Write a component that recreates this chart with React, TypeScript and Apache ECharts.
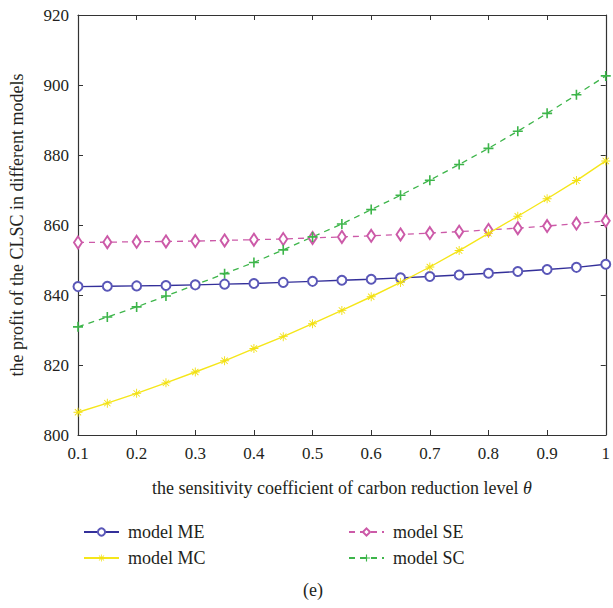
import React, { useEffect, useRef } from "react";
import * as echarts from "echarts";

const theta = [0.1, 0.15, 0.2, 0.25, 0.3, 0.35, 0.4, 0.45, 0.5, 0.55, 0.6, 0.65, 0.7, 0.75, 0.8, 0.85, 0.9, 0.95, 1];
const modelME = [842.4, 842.5, 842.6, 842.7, 842.9, 843.1, 843.3, 843.6, 843.9, 844.2, 844.5, 844.9, 845.3, 845.7, 846.2, 846.7, 847.3, 847.9, 848.8];
const modelSE = [855.0, 855.1, 855.2, 855.3, 855.4, 855.6, 855.8, 856.0, 856.3, 856.6, 856.9, 857.3, 857.7, 858.1, 858.6, 859.1, 859.7, 860.4, 861.2];
const modelMC = [806.5, 809.1, 811.9, 814.9, 818.0, 821.2, 824.7, 828.1, 831.8, 835.6, 839.5, 843.6, 848.0, 852.7, 857.6, 862.5, 867.5, 872.7, 878.3];
const modelSC = [830.9, 833.7, 836.6, 839.7, 842.9, 846.1, 849.3, 852.9, 856.6, 860.3, 864.4, 868.5, 872.8, 877.3, 881.9, 886.8, 891.9, 897.2, 902.6];
const yTicks = { min: 800, max: 920, step: 20 };
const xTicks = { min: 0.1, max: 1, step: 0.1 };

const FONT = "Liberation Serif";
const TEXT = "#231f20";
const AXIS = "#333333";

const asterisk =
  "path://M2 11H22V13H2Z M11 2H13V22H11Z M4.3 5.7L5.7 4.3L19.7 18.3L18.3 19.7Z M18.3 4.3L19.7 5.7L5.7 19.7L4.3 18.3Z";
const plus = "path://M4.2 0H5.8V4.2H10V5.8H5.8V10H4.2V5.8H0V4.2H4.2Z";

function pairs(ys: number[]) {
  return theta.map((x, i) => [x, ys[i]]);
}

export default function App() {
  const ref = useRef<HTMLDivElement>(null);
  useEffect(() => {
    if (!ref.current) return;
    const chart = echarts.init(ref.current, undefined, { renderer: "svg" });
    const xFmt = (v: number) => String(Number(v.toFixed(1)));
    const legendText = { fontFamily: FONT, fontSize: 18, color: TEXT, padding: [0, 0, 0, 4], lineHeight: 20 };
    const legendBase = {
      orient: "vertical",
      top: 517,
      itemWidth: 35,
      itemHeight: 9,
      itemGap: 6,
      textStyle: legendText,
    };
    chart.setOption({
      animation: false,
      backgroundColor: "#ffffff",
      textStyle: { fontFamily: FONT, color: TEXT },
      grid: { left: 78, right: 2, top: 15, bottom: 173 },
      xAxis: [
        {
          type: "value",
          min: xTicks.min,
          max: xTicks.max,
          interval: xTicks.step,
          position: "bottom",
          name: "the sensitivity coefficient of carbon reduction level {i|θ}",
          nameLocation: "middle",
          nameGap: 44,
          nameTextStyle: {
            fontFamily: FONT,
            fontSize: 18,
            color: TEXT,
            rich: { i: { fontFamily: FONT, fontSize: 18, fontStyle: "italic", color: TEXT } },
          },
          axisLine: { show: true, lineStyle: { color: AXIS, width: 1.2 } },
          axisTick: { show: true, inside: true, length: 5, lineStyle: { color: AXIS } },
          axisLabel: { formatter: xFmt, fontFamily: FONT, fontSize: 17, color: TEXT, margin: 10 },
          splitLine: { show: false },
        },
        {
          type: "value",
          min: xTicks.min,
          max: xTicks.max,
          interval: xTicks.step,
          position: "top",
          axisLine: { show: true, lineStyle: { color: AXIS, width: 1.2 } },
          axisTick: { show: true, inside: true, length: 5, lineStyle: { color: AXIS } },
          axisLabel: { show: false },
          splitLine: { show: false },
        },
      ],
      yAxis: [
        {
          type: "value",
          min: yTicks.min,
          max: yTicks.max,
          interval: yTicks.step,
          position: "left",
          name: "the profit of the CLSC in different models",
          nameLocation: "middle",
          nameGap: 52,
          nameTextStyle: { fontFamily: FONT, fontSize: 18, color: TEXT },
          axisLine: { show: true, lineStyle: { color: AXIS, width: 1.2 } },
          axisTick: { show: true, inside: true, length: 5, lineStyle: { color: AXIS } },
          axisLabel: { fontFamily: FONT, fontSize: 17, color: TEXT, margin: 9 },
          splitLine: { show: false },
        },
        {
          type: "value",
          min: yTicks.min,
          max: yTicks.max,
          interval: yTicks.step,
          position: "right",
          axisLine: { show: true, lineStyle: { color: AXIS, width: 1.2 } },
          axisTick: { show: true, inside: true, length: 5, lineStyle: { color: AXIS } },
          axisLabel: { show: false },
          splitLine: { show: false },
        },
      ],
      legend: [
        { ...legendBase, left: 78, data: ["model ME", "model MC"] },
        { ...legendBase, left: 343, data: ["model SE", "model SC"] },
      ],
      graphic: [
        {
          type: "text",
          x: 313,
          y: 590,
          style: {
            text: "(e)",
            fontFamily: FONT,
            fontSize: 18,
            fill: TEXT,
            textAlign: "center",
            textVerticalAlign: "middle",
          },
        },
      ],
      series: [
        {
          name: "model ME",
          type: "line",
          data: pairs(modelME),
          symbol: "emptyCircle",
          symbolSize: 9,
          lineStyle: { color: "#34309a", width: 1.4 },
          itemStyle: { color: "#5a57b8", borderColor: "#5a57b8", borderWidth: 1 },
          z: 3,
        },
        {
          name: "model MC",
          type: "line",
          data: pairs(modelMC),
          symbol: asterisk,
          symbolSize: 9,
          lineStyle: { color: "#f5e61a", width: 1.4 },
          itemStyle: { color: "#f2e013" },
          z: 4,
        },
        {
          name: "model SE",
          type: "line",
          data: pairs(modelSE),
          symbol: "emptyDiamond",
          symbolSize: [8, 12],
          lineStyle: { color: "#cc5aa8", width: 1.3, type: [6, 5] },
          itemStyle: { color: "#cc5aa8", borderColor: "#cc5aa8", borderWidth: 1 },
          z: 2,
        },
        {
          name: "model SC",
          type: "line",
          data: pairs(modelSC),
          symbol: plus,
          symbolSize: 10,
          lineStyle: { color: "#3db54a", width: 1.3, type: [6, 5] },
          itemStyle: { color: "#3db54a" },
          z: 2,
        },
      ],
    });
    return () => chart.dispose();
  }, []);
  return (
    <div
      ref={ref}
      style={{ position: "fixed", left: 0, top: 0, width: 613, height: 608 }}
    />
  );
}
